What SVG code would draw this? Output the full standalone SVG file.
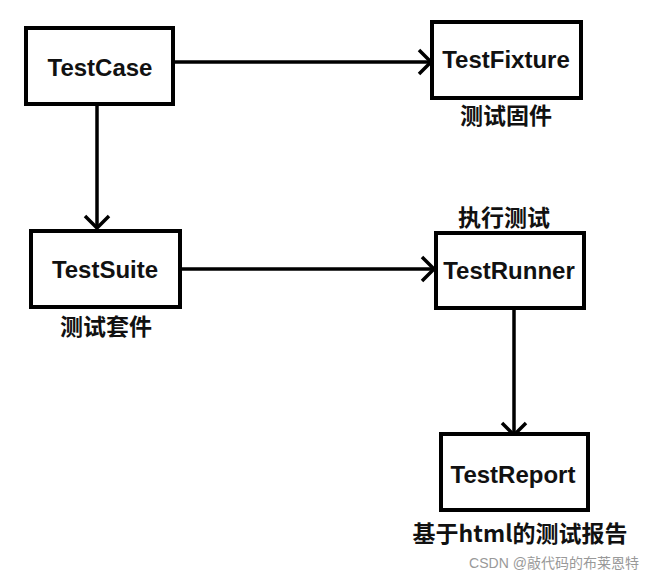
<svg xmlns="http://www.w3.org/2000/svg" width="650" height="578" viewBox="0 0 650 578">
<style>
.box{fill:#fff;stroke:#000;stroke-width:4}
.t{font-family:"Liberation Sans","Noto Sans CJK SC",sans-serif;font-weight:bold;font-size:24px;fill:#111;text-anchor:middle;dominant-baseline:central}
.c{font-family:"Noto Sans CJK SC",sans-serif;font-weight:bold;font-size:23px;fill:#111;text-anchor:middle;dominant-baseline:central}
.ln{fill:none;stroke:#000;stroke-width:3.5}
.wm{font-family:"Liberation Sans","Noto Sans CJK SC",sans-serif;font-size:14px;fill:#999;text-anchor:middle;dominant-baseline:central}
</style>
<defs>
<marker id="ah" markerWidth="20" markerHeight="30" viewBox="-17 -15 20 30" refX="0" refY="0" orient="auto" markerUnits="userSpaceOnUse">
<path d="M-12,-12 L0,0 L-12,12" fill="none" stroke="#000" stroke-width="3.5"/>
</marker>
</defs>
<rect width="650" height="578" fill="#fff"/>
<g id="connectors">
<line class="ln" x1="173" y1="62" x2="431" y2="62" marker-end="url(#ah)"/>
<line class="ln" x1="97" y1="104" x2="97" y2="228" marker-end="url(#ah)"/>
<line class="ln" x1="180" y1="269" x2="434" y2="269" marker-end="url(#ah)"/>
<line class="ln" x1="514" y1="308" x2="514" y2="435" marker-end="url(#ah)"/>
</g>
<g id="TestCase">
<rect class="box" x="26" y="28" width="147" height="76"/>
<text class="t" x="100" y="67">TestCase</text>
</g>
<g id="TestFixture">
<rect class="box" x="432" y="22" width="149" height="76"/>
<text class="t" x="506" y="59">TestFixture</text>
<text class="c" x="506" y="114">测试固件</text>
</g>
<g id="TestSuite">
<rect class="box" x="31" y="231" width="149" height="76"/>
<text class="t" x="105" y="269">TestSuite</text>
<text class="c" x="106" y="325">测试套件</text>
</g>
<g id="TestRunner">
<text class="c" x="504" y="216">执行测试</text>
<rect class="box" x="436" y="233" width="148" height="75"/>
<text class="t" x="509" y="270">TestRunner</text>
</g>
<g id="TestReport">
<rect class="box" x="441" y="434" width="147" height="76"/>
<text class="t" x="513" y="474">TestReport</text>
<text class="c" x="520" y="532">基于html的测试报告</text>
</g>
<text class="wm" x="554" y="563">CSDN @敲代码的布莱恩特</text>
</svg>
